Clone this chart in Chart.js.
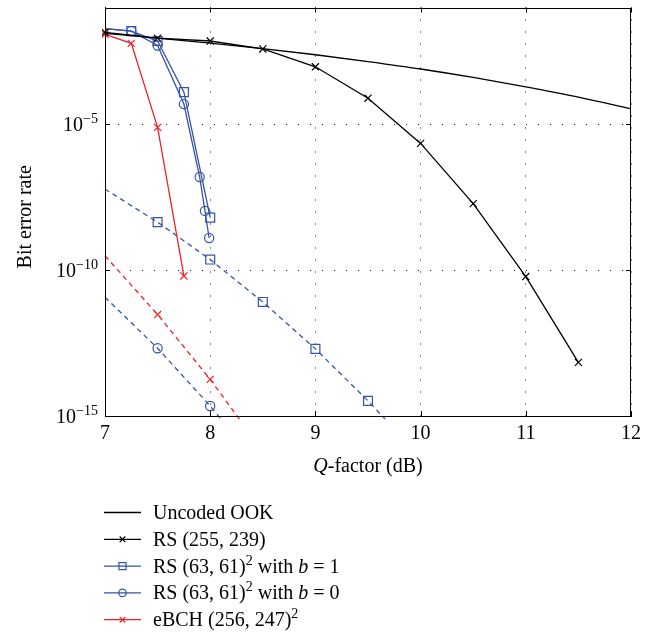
<!DOCTYPE html>
<html>
<head>
<meta charset="utf-8">
<script src="https://cdn.jsdelivr.net/npm/chart.js@4"></script>
<style>
  html, body { margin: 0; padding: 0; background: #fff; }
  #caixa { width: 664px; height: 636px; }
</style>
</head>
<body>
<div id="caixa"><canvas id="grafico"></canvas></div>
<script>
// Uncoded OOK
const qUncoded = [7, 7.5, 8, 8.5, 9, 9.5, 10, 10.5, 11, 11.5, 12];
const berUncoded = [1.3e-2, 8.9e-3, 6.0e-3, 3.9e-3, 2.4e-3, 1.4e-3, 7.8e-4, 4.0e-4, 1.9e-4, 8.5e-5, 3.4e-5];

// RS (255, 239)
const qRs255 = [7, 7.5, 8, 8.5, 9, 9.5, 10, 10.5, 11, 11.5];
const berRs255 = [1.4e-2, 8.9e-3, 7.1e-3, 3.8e-3, 9.3e-4, 7.8e-5, 2.2e-6, 1.9e-8, 6.0e-11, 6.9e-14];

// RS (63,61)^2 b = 1 (solid)
const qRs63b1 = [7, 7.25, 7.5, 7.75, 8];
const berRs63b1 = [1.9e-2, 1.55e-2, 7.1e-3, 1.26e-4, 6.3e-9];

// RS (63,61)^2 b = 0 (solid)
const qRs63b0 = [7, 7.25, 7.5, 7.75, 7.9, 7.95, 7.99];
const berRs63b0 = [1.9e-2, 1.55e-2, 5.0e-3, 4.9e-5, 1.55e-7, 1.07e-8, 1.26e-9];

// eBCH (256,247)^2 (solid)
const qEbch = [7, 7.25, 7.5, 7.75];
const berEbch = [1.2e-2, 5.9e-3, 7.8e-6, 6.3e-11];

// curvas tracejadas
const qRs63b1Tr = [7, 7.5, 8, 8.5, 9, 9.5, 10];
const berRs63b1Tr = [6.0e-8, 4.4e-9, 2.3e-10, 8.1e-12, 2.0e-13, 3.3e-15, 4.0e-17];

const qRs63b0Tr = [7, 7.5, 8, 8.5];
const berRs63b0Tr = [1.17e-11, 2.1e-13, 2.2e-15, 1.4e-17];

const qEbchTr = [7, 7.5, 8, 8.5];
const berEbchTr = [3.1e-10, 3.0e-12, 1.8e-14, 6.3e-17];

// eixos
const xTicks = [7, 8, 9, 10, 11, 12];
const yTicks = [1e-15, 1e-10, 1e-5];
const yTickExp = ["\u221215", "\u221210", "\u22125"];

const PRETO = "#000000";
const AZUL = "#3553a9";
const VERMELHO = "#ec2227";
const FONTE = "'Liberation Serif', 'DejaVu Serif', serif";

function pares(xs, ys) {
  return xs.map((x, i) => ({ x: x, y: ys[i] }));
}

function raios(xs, r, semPrimeiro) {
  return xs.map((x, i) => (semPrimeiro && i === 0 ? 0 : r));
}

const series = [
  { label: "Uncoded OOK", xs: qUncoded, ys: berUncoded, cor: PRETO, estilo: false, r: 0 },
  { label: "RS (255, 239)", xs: qRs255, ys: berRs255, cor: PRETO, estilo: "crossRot", r: 5 },
  { label: "RS (63, 61)² with b = 1", xs: qRs63b1, ys: berRs63b1, cor: AZUL, estilo: "rect", r: 6.3, semPrimeiro: true },
  { label: "RS (63, 61)² with b = 0", xs: qRs63b0, ys: berRs63b0, cor: AZUL, estilo: "circle", r: 4.6, semPrimeiro: true },
  { label: "eBCH (256, 247)²", xs: qEbch, ys: berEbch, cor: VERMELHO, estilo: "crossRot", r: 5 },
  { label: "", xs: qRs63b1Tr, ys: berRs63b1Tr, cor: AZUL, estilo: "rect", r: 6.3, semPrimeiro: true, tracejado: true },
  { label: "", xs: qRs63b0Tr, ys: berRs63b0Tr, cor: AZUL, estilo: "circle", r: 4.6, semPrimeiro: true, tracejado: true },
  { label: "", xs: qEbchTr, ys: berEbchTr, cor: VERMELHO, estilo: "crossRot", r: 5, semPrimeiro: true, tracejado: true }
];

const datasets = series.map(s => ({
  label: s.label,
  data: pares(s.xs, s.ys),
  borderColor: s.cor,
  backgroundColor: "rgba(0,0,0,0)",
  borderWidth: 1.3,
  borderDash: s.tracejado ? [5, 4] : [],
  pointStyle: s.estilo || "circle",
  pointRadius: raios(s.xs, s.r, s.semPrimeiro),
  pointHoverRadius: 0,
  pointBorderColor: s.cor,
  pointBackgroundColor: "rgba(0,0,0,0)",
  pointBorderWidth: 1.2,
  cubicInterpolationMode: s.estilo === false ? "monotone" : "default",
  tension: 0,
  clip: 3
}));

// entradas da legenda (texto com partes em itálico / sobrescrito)
const legendaTextos = [
  [{ t: "Uncoded OOK" }],
  [{ t: "RS (255, 239)" }],
  [{ t: "RS (63, 61)" }, { t: "2", sup: true }, { t: " with " }, { t: "b", it: true }, { t: " = 1" }],
  [{ t: "RS (63, 61)" }, { t: "2", sup: true }, { t: " with " }, { t: "b", it: true }, { t: " = 0" }],
  [{ t: "eBCH (256, 247)" }, { t: "2", sup: true }]
];

function escreveRuns(c, runs, x, y) {
  runs.forEach(r => {
    let fs = r.sup ? 14 : 20;
    c.font = (r.it ? "italic " : "") + fs + "px " + FONTE;
    c.textBaseline = "alphabetic";
    c.fillText(r.t, x, r.sup ? y - 8 : y);
    x += c.measureText(r.t).width;
  });
}

const decoracao = {
  id: "decoracao",
  afterDraw(chart) {
    const c = chart.ctx;
    const a = chart.chartArea;
    const sx = chart.scales.x;
    const sy = chart.scales.y;
    c.save();

    // moldura
    c.strokeStyle = PRETO;
    c.lineWidth = 1;
    c.setLineDash([]);
    c.strokeRect(Math.round(a.left) + 0.5, Math.round(a.top) + 0.5,
      Math.round(a.right - a.left) - 1, Math.round(a.bottom - a.top) - 1);

    // marcas internas
    c.beginPath();
    xTicks.forEach(v => {
      const px = Math.round(sx.getPixelForValue(v)) + 0.5;
      c.moveTo(px, a.bottom); c.lineTo(px, a.bottom - 5);
      c.moveTo(px, a.top); c.lineTo(px, a.top + 5);
    });
    yTicks.forEach(v => {
      const py = Math.round(sy.getPixelForValue(v)) + 0.5;
      c.moveTo(a.left, py); c.lineTo(a.left + 5, py);
      c.moveTo(a.right, py); c.lineTo(a.right - 5, py);
    });
    c.stroke();

    // rótulos do eixo y: 10^-n
    c.fillStyle = PRETO;
    yTicks.forEach((v, i) => {
      const py = sy.getPixelForValue(v);
      c.font = "14px " + FONTE;
      const we = c.measureText(yTickExp[i]).width;
      c.font = "20px " + FONTE;
      const wb = c.measureText("10").width;
      const xFim = a.left - 7;
      c.textBaseline = "alphabetic";
      c.fillText("10", xFim - we - wb, py + 7);
      c.font = "14px " + FONTE;
      c.fillText(yTickExp[i], xFim - we, py - 1);
    });

    // título do eixo y
    c.save();
    c.translate(26, (a.top + a.bottom) / 2 + 5);
    c.rotate(-Math.PI / 2);
    c.font = "20px " + FONTE;
    c.textAlign = "center";
    c.textBaseline = "middle";
    c.fillText("Bit error rate", 0, 0);
    c.restore();

    // título do eixo x
    const tituloX = [{ t: "Q", it: true }, { t: "-factor (dB)" }];
    let larg = 0;
    tituloX.forEach(r => {
      c.font = (r.it ? "italic " : "") + "20px " + FONTE;
      larg += c.measureText(r.t).width;
    });
    c.textAlign = "left";
    escreveRuns(c, tituloX, (a.left + a.right) / 2 - larg / 2, 472);

    // legenda
    const y0 = 512, passo = 26.8;
    legendaTextos.forEach((runs, i) => {
      const ds = chart.data.datasets[i];
      const s = series[i];
      const y = y0 + i * passo;
      c.strokeStyle = ds.borderColor;
      c.lineWidth = 1.3;
      c.beginPath();
      c.moveTo(104, y + 0.5); c.lineTo(141, y + 0.5);
      c.stroke();
      if (s.estilo) {
        c.fillStyle = "rgba(0,0,0,0)";
        c.lineWidth = 1.2;
        Chart.helpers.drawPoint(c, { pointStyle: s.estilo, radius: s.r * 0.8, rotation: 0, borderWidth: 1.2 }, 122.5, y + 0.5);
      }
      c.fillStyle = PRETO;
      escreveRuns(c, runs, 153, y + 7);
    });

    c.restore();
  }
};

new Chart(document.getElementById("grafico"), {
  type: "line",
  data: { datasets: datasets },
  options: {
    responsive: true,
    maintainAspectRatio: false,
    animation: false,
    events: [],
    layout: { padding: { left: 0, right: 33, top: 2, bottom: 0 } },
    plugins: {
      legend: { display: false },
      tooltip: { enabled: false }
    },
    scales: {
      x: {
        type: "linear",
        min: 7,
        max: 12,
        afterBuildTicks: scale => { scale.ticks = xTicks.map(v => ({ value: v })); },
        afterFit: scale => { scale.height = 220; },
        ticks: {
          color: PRETO,
          padding: 6,
          font: { family: FONTE, size: 20 },
          callback: v => String(v)
        },
        grid: { color: "#111", lineWidth: 1, drawTicks: false },
        border: { display: true, color: PRETO, width: 1, dash: [1, 11] }
      },
      y: {
        type: "logarithmic",
        min: 1e-15,
        max: 1e-1,
        afterBuildTicks: scale => { scale.ticks = yTicks.map(v => ({ value: v })); },
        afterFit: scale => { scale.width = 105; },
        ticks: { display: false },
        grid: { color: "#111", lineWidth: 1, drawTicks: false },
        border: { display: true, color: PRETO, width: 1, dash: [1, 11] }
      }
    }
  },
  plugins: [decoracao]
});
</script>
</body>
</html>
